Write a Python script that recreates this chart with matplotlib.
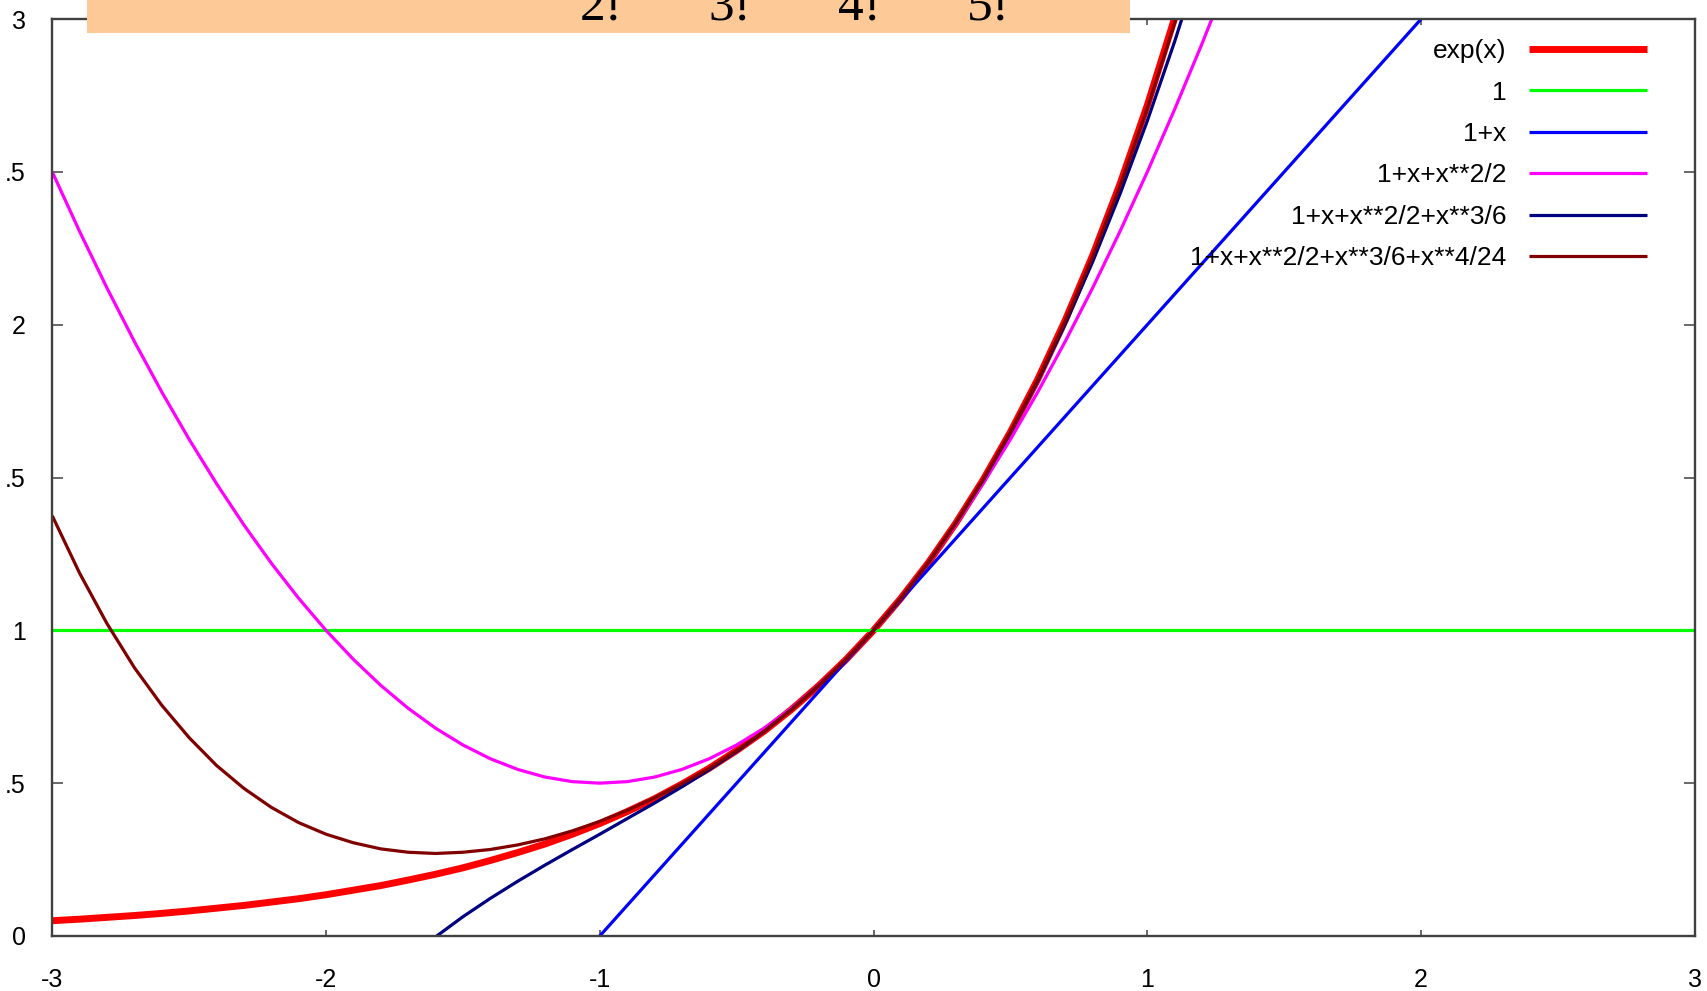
import matplotlib.pyplot as plt
from matplotlib.patches import Rectangle

x = [-3.0, -2.9, -2.8, -2.7, -2.6, -2.5, -2.4, -2.3, -2.2, -2.1,
     -2.0, -1.9, -1.8, -1.7, -1.6, -1.5, -1.4, -1.3, -1.2, -1.1,
     -1.0, -0.9, -0.8, -0.7, -0.6, -0.5, -0.4, -0.3, -0.2, -0.1,
     0.0, 0.1, 0.2, 0.3, 0.4, 0.5, 0.6, 0.7, 0.8, 0.9,
     1.0, 1.1, 1.2, 1.3, 1.4]
y_exp = [0.050, 0.055, 0.061, 0.067, 0.074, 0.082, 0.091, 0.100, 0.111, 0.122,
         0.135, 0.150, 0.165, 0.183, 0.202, 0.223, 0.247, 0.273, 0.301, 0.333,
         0.368, 0.407, 0.449, 0.497, 0.549, 0.607, 0.670, 0.741, 0.819, 0.905,
         1.000, 1.105, 1.221, 1.350, 1.492, 1.649, 1.822, 2.014, 2.226, 2.460,
         2.718, 3.004, 3.320, 3.669, 4.055]
y_quad = [2.500, 2.305, 2.120, 1.945, 1.780, 1.625, 1.480, 1.345, 1.220, 1.105,
          1.000, 0.905, 0.820, 0.745, 0.680, 0.625, 0.580, 0.545, 0.520, 0.505,
          0.500, 0.505, 0.520, 0.545, 0.580, 0.625, 0.680, 0.745, 0.820, 0.905,
          1.000, 1.105, 1.220, 1.345, 1.480, 1.625, 1.780, 1.945, 2.120, 2.305,
          2.500, 2.705, 2.920, 3.145, 3.380]
y_cubic = [-2.000, -1.760, -1.539, -1.336, -1.149, -0.979, -0.824, -0.683, -0.555, -0.439,
           -0.333, -0.238, -0.152, -0.074, -0.003, 0.063, 0.123, 0.179, 0.232, 0.283,
           0.333, 0.384, 0.435, 0.488, 0.544, 0.604, 0.669, 0.741, 0.819, 0.905,
           1.000, 1.105, 1.221, 1.350, 1.491, 1.646, 1.816, 2.002, 2.205, 2.427,
           2.667, 2.927, 3.208, 3.511, 3.837]
y_quart = [1.375, 1.187, 1.022, 0.878, 0.755, 0.649, 0.558, 0.483, 0.421, 0.371,
           0.333, 0.305, 0.285, 0.274, 0.270, 0.274, 0.283, 0.298, 0.318, 0.344,
           0.375, 0.411, 0.452, 0.498, 0.549, 0.607, 0.670, 0.741, 0.819, 0.905,
           1.000, 1.105, 1.221, 1.350, 1.492, 1.649, 1.821, 2.012, 2.222, 2.454,
           2.708, 2.988, 3.294, 3.630, 3.997]
x_const = [-3.0, 3.0]
y_const = [1.0, 1.0]
x_lin = [-1.0, 2.0]
y_lin = [0.0, 3.0]

labels = ['exp(x)', '1', '1+x', '1+x+x**2/2', '1+x+x**2/2+x**3/6',
          '1+x+x**2/2+x**3/6+x**4/24']
xticks = [-3, -2, -1, 0, 1, 2, 3]
xtick_labels = ['-3', '-2', '-1', '0', '1', '2', '3']
yticks = [0, 0.5, 1, 1.5, 2, 2.5, 3]
ytick_labels = ['0', '.5', '1', '.5', '2', '.5', '3']
factorials = ['2!', '3!', '4!', '5!']

plt.rcParams['font.family'] = ['Liberation Sans', 'DejaVu Sans']

fig = plt.figure(figsize=(17.07, 9.91), dpi=100)
ax = fig.add_axes([0.0306, 0.0555, 0.9623, 0.9253])

# curves, in gnuplot order so later ones sit on top
ax.plot(x, y_exp, color='#ff0000', lw=5, solid_capstyle='butt', label=labels[0])
ax.plot(x_const, y_const, color='#00ff00', lw=2.3, solid_capstyle='butt', label=labels[1])
ax.plot(x_lin, y_lin, color='#0000ff', lw=2.3, solid_capstyle='butt', label=labels[2])
ax.plot(x, y_quad, color='#ff00ff', lw=2.3, solid_capstyle='butt', label=labels[3])
ax.plot(x, y_cubic, color='#000080', lw=2.3, solid_capstyle='butt', label=labels[4])
ax.plot(x, y_quart, color='#800000', lw=2.3, solid_capstyle='butt', label=labels[5])

ax.set_xlim(-3, 3)
ax.set_ylim(0, 3)
ax.set_xticks(xticks)
ax.set_xticklabels(xtick_labels)
ax.set_yticks(yticks)
ax.set_yticklabels(ytick_labels)

# gnuplot style frame with mirrored inward ticks
for s in ax.spines.values():
    s.set_color('#404040')
    s.set_linewidth(1.7)
ax.tick_params(axis='both', direction='in', colors='#404040', labelcolor='black',
               width=1.1, labelsize=18)
ax.tick_params(axis='x', length=4.3, pad=23, top=True)
ax.tick_params(axis='y', length=8, pad=19, right=True)

leg = ax.legend(loc='upper right', bbox_to_anchor=(0.9708, 0.978), frameon=False,
                markerfirst=False, fontsize=19, handlelength=4.45, handletextpad=0.87,
                labelspacing=0.66, borderpad=0, borderaxespad=0)

# orange formula box cut off at the top of the image
fig.patches.append(Rectangle((0.051, 0.9667), 0.611, 0.04, transform=fig.transFigure,
                             facecolor='#fdca97', edgecolor='none', zorder=3))
for i, t in enumerate(factorials):
    fig.text(0.352 + i * 0.0756, 0.9808, t, ha='center', va='baseline', fontsize=37,
             family=['Liberation Serif', 'DejaVu Serif'], color='black', zorder=4)

plt.savefig('out.png', dpi=100)
